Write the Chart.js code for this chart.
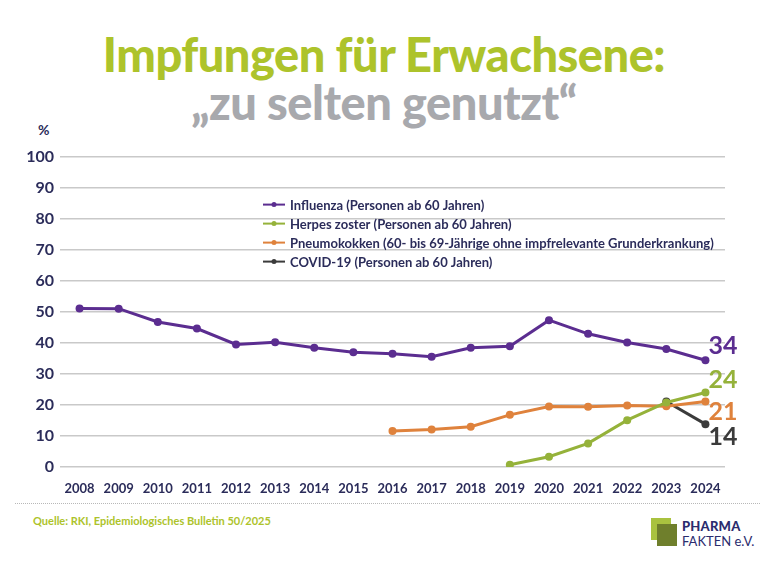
<!DOCTYPE html>
<html lang="de">
<head>
<meta charset="utf-8">
<title>Impfungen für Erwachsene</title>
<script src="https://cdn.jsdelivr.net/npm/chart.js@4.4.1/dist/chart.umd.min.js"></script>
<style>
  html, body { margin: 0; padding: 0; background: #ffffff; }
  body { width: 768px; height: 561px; position: relative; overflow: hidden; font-family: Lato, "Open Sans", sans-serif; }
  .title { position: absolute; left: 0; width: 768px; text-align: center; font-weight: 900; line-height: 1; }
  #t1 { top: 31px; font-size: 47px; color: #adc32b; letter-spacing: -0.5px; }
  #t2 { top: 79px; font-size: 47px; color: #a8a9ad; letter-spacing: -0.5px; }
  #pct { position: absolute; left: 38px; top: 121px; font-size: 14px; font-weight: 700; color: #2b2c5a; }
  #chartBox { position: absolute; left: 0; top: 141px; width: 768px; height: 354px; }
  #dots { position: absolute; left: 15px; right: 8px; top: 503px; border-top: 1px dotted #b8b8b8; }
  #source { position: absolute; left: 33px; top: 514px; font-size: 11px; font-weight: 700; color: #adc32b; }
  #logo { position: absolute; left: 651px; top: 518px; width: 110px; height: 36px; }
  #logo .sq1 { position: absolute; left: 0; top: 0; width: 20px; height: 22px; background: #a9c23f; }
  #logo .sq2 { position: absolute; left: 6px; top: 6px; width: 20px; height: 22px; background: #6f7f2c; }
  #logo .w1 { position: absolute; left: 31px; top: 0px; font-size: 13px; font-weight: 900; color: #2b2c6e; letter-spacing: 0.2px; }
  #logo .w2 { position: absolute; left: 31px; top: 15px; font-size: 13px; font-weight: 400; color: #2b2c6e; }
</style>
</head>
<body>
<div class="title" id="t1">Impfungen für Erwachsene:</div>
<div class="title" id="t2">„zu selten genutzt“</div>
<div id="pct">%</div>
<div id="chartBox"><canvas id="chart"></canvas></div>
<div id="dots"></div>
<div id="source">Quelle: RKI, Epidemiologisches Bulletin 50/2025</div>
<div id="logo">
  <div class="sq1"></div><div class="sq2"></div>
  <div class="w1">PHARMA</div>
  <div class="w2">FAKTEN e.V.</div>
</div>
<script>
/*
  Daten (Impfquoten in %)
*/
var years = ["2008", "2009", "2010", "2011", "2012", "2013", "2014", "2015", "2016",
             "2017", "2018", "2019", "2020", "2021", "2022", "2023", "2024"];

var influenza = [51.1, 51.0, 46.7, 44.6, 39.5, 40.2, 38.4, 37.0, 36.5,
                 35.5, 38.4, 38.9, 47.3, 42.9, 40.1, 38.0, 34.4];

var herpes_zoster = [null, null, null, null, null, null, null, null, null,
                     null, null, 0.7, 3.3, 7.6, 15.1, 20.8, 24.0];

var pneumokokken = [null, null, null, null, null, null, null, null, 11.6,
                    12.1, 13.0, 16.8, 19.5, 19.4, 19.8, 19.6, 21.1];

var covid = [null, null, null, null, null, null, null, null, null,
             null, null, null, null, null, null, 21.1, 13.8];

var series_labels = [
  "Influenza (Personen ab 60 Jahren)",
  "Herpes zoster (Personen ab 60 Jahren)",
  "Pneumokokken (60- bis 69-Jährige ohne impfrelevante Grunderkrankung)",
  "COVID-19 (Personen ab 60 Jahren)"
];

var end_labels = ["34", "24", "21", "14"];
var y_ticks = [0, 10, 20, 30, 40, 50, 60, 70, 80, 90, 100];

var colors = ["#5b2d90", "#95b23a", "#df823c", "#3b3b3b"];
var navy = "#2b2c5a";

/*
  Endwerte rechts neben dem letzten Punkt
*/
var end_label_offsets = [-14, -13, 10, 13];

var end_label_plugin = {
  id: "endLabels",
  afterDatasetsDraw: function (chart) {
    var ctx = chart.ctx;
    ctx.save();
    ctx.font = "700 25px Lato";
    ctx.textAlign = "left";
    ctx.textBaseline = "middle";
    chart.data.datasets.forEach(function (ds, i) {
      var meta = chart.getDatasetMeta(i);
      var last = meta.data[meta.data.length - 1];
      if (!last) {
        return;
      }
      ctx.fillStyle = ds.borderColor;
      ctx.fillText(end_labels[i], last.x + 3, last.y + end_label_offsets[i]);
    });
    ctx.restore();
  }
};

/*
  Legende innerhalb der Grafikfläche
*/
var legend_plugin = {
  id: "insideLegend",
  afterDraw: function (chart) {
    var ctx = chart.ctx;
    var area = chart.chartArea;
    var x = area.left + 203;
    var y = area.top + 48;
    ctx.save();
    ctx.font = "700 13px Lato";
    ctx.textBaseline = "middle";
    chart.data.datasets.forEach(function (ds, i) {
      var row_y = y + i * 19;
      ctx.strokeStyle = ds.borderColor;
      ctx.lineWidth = 2;
      ctx.beginPath();
      ctx.moveTo(x, row_y);
      ctx.lineTo(x + 22, row_y);
      ctx.stroke();
      ctx.fillStyle = ds.borderColor;
      ctx.beginPath();
      ctx.arc(x + 11, row_y, 2.5, 0, Math.PI * 2);
      ctx.fill();
      ctx.fillStyle = navy;
      ctx.fillText(ds.label, x + 27, row_y + 1);
    });
    ctx.restore();
  }
};

function make_dataset(label, values, color) {
  return {
    label: label,
    data: values,
    borderColor: color,
    backgroundColor: color,
    borderWidth: 3,
    pointRadius: 4,
    pointHoverRadius: 4,
    pointBackgroundColor: color,
    pointBorderWidth: 0,
    spanGaps: false,
    tension: 0
  };
}

var canvas = document.getElementById("chart");
var context = canvas.getContext("2d");

var chart = new Chart(context, {
  type: "line",
  data: {
    labels: years,
    datasets: [
      make_dataset(series_labels[0], influenza, colors[0]),
      make_dataset(series_labels[1], herpes_zoster, colors[1]),
      make_dataset(series_labels[2], pneumokokken, colors[2]),
      make_dataset(series_labels[3], covid, colors[3])
    ]
  },
  options: {
    responsive: true,
    maintainAspectRatio: false,
    animation: false,
    layout: {
      padding: { top: 7, right: 43, bottom: 0, left: 0 }
    },
    plugins: {
      legend: { display: false },
      tooltip: { enabled: false }
    },
    scales: {
      x: {
        offset: true,
        grid: { display: false },
        border: { display: false },
        ticks: {
          color: navy,
          font: { family: "Lato", size: 13, weight: "bold" },
          maxRotation: 0,
          autoSkip: false,
          padding: 6
        },
        afterFit: function (axis) {
          axis.height = 28;
        }
      },
      y: {
        min: 0,
        max: 100,
        afterBuildTicks: function (axis) {
          axis.ticks = y_ticks.map(function (v) { return { value: v }; });
        },
        grid: {
          color: "#c9c9c9",
          lineWidth: 1.5,
          drawTicks: false
        },
        border: { display: false },
        ticks: {
          color: navy,
          font: { family: "Lato", size: 16, weight: "bold" },
          padding: 6
        },
        afterFit: function (axis) {
          axis.width = 60;
        }
      }
    }
  },
  plugins: [end_label_plugin, legend_plugin]
});
</script>
</body>
</html>
